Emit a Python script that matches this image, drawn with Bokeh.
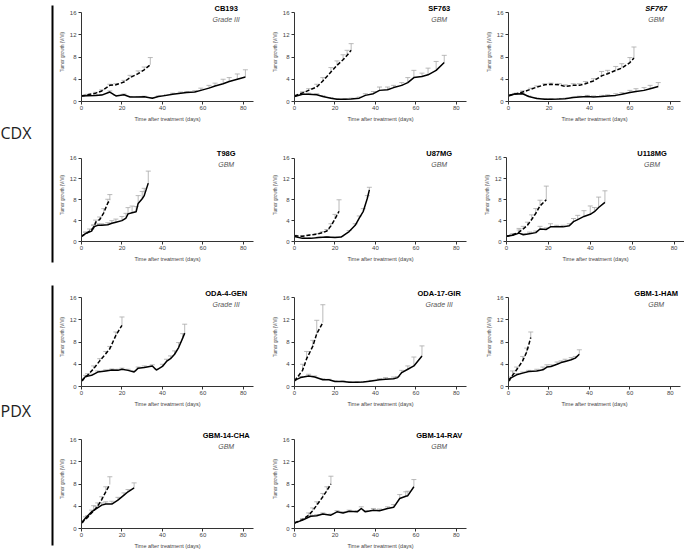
from bokeh.plotting import figure
from bokeh.models import Range1d, Label, ColumnDataSource
from bokeh.layouts import row, column
from bokeh.embed import file_html
from bokeh.resources import INLINE
from bokeh.core.properties import value

x_ticks = [0, 20, 40, 60, 80]
y_ticks = [0, 4, 8, 12, 16]
x_title = "Time after treatment (days)"
y_title = "Tumor growth (V/Vi)"
group_labels = ["CDX", "PDX"]

# ---------------- CDX ----------------
cb193_name, cb193_sub = "CB193", "Grade III"
cb193_sd = [0, 3, 7, 10, 14, 17, 21, 24, 28, 31, 35, 38, 42, 45, 49, 52, 56, 59, 63, 66, 70, 73, 77, 81]
cb193_sv = [1.0, 1.05, 1.1, 1.15, 1.7, 1.0, 1.2, 0.8, 0.8, 0.85, 0.6, 0.9, 1.1, 1.3, 1.5, 1.6, 1.7, 2.0, 2.4, 2.8, 3.2, 3.6, 4.0, 4.4]
cb193_se = [0.1, 0.1, 0.1, 0.1, 0.2, 0.1, 0.15, 0.1, 0.1, 0.1, 0.1, 0.1, 0.15, 0.2, 0.2, 0.2, 0.25, 0.4, 0.5, 0.5, 0.8, 0.7, 0.95, 1.3]
cb193_dd = [0, 3, 7, 10, 14, 17, 21, 24, 28, 31, 34]
cb193_dv = [1.0, 1.2, 1.5, 1.9, 2.9, 3.0, 3.5, 4.3, 5.0, 5.7, 6.6]
cb193_de = [0.1, 0.1, 0.15, 0.2, 0.2, 0.2, 0.3, 0.4, 0.5, 0.5, 1.3]

sf763_name, sf763_sub = "SF763", "GBM"
sf763_sd = [0, 4, 7, 11, 14, 18, 21, 25, 28, 32, 35, 39, 42, 46, 49, 53, 56, 59, 63, 66, 70, 74]
sf763_sv = [0.9, 1.3, 1.3, 1.2, 0.9, 0.6, 0.4, 0.4, 0.45, 0.6, 1.1, 1.4, 2.0, 2.1, 2.5, 2.9, 3.4, 4.3, 4.5, 4.8, 5.6, 7.0]
sf763_se = [0.1, 0.2, 0.2, 0.2, 0.15, 0.1, 0.1, 0.1, 0.15, 0.2, 0.3, 0.4, 0.6, 0.5, 0.4, 0.5, 0.9, 1.3, 0.6, 1.2, 1.6, 1.3]
sf763_dd = [0, 4, 7, 11, 14, 18, 21, 24, 26, 28]
sf763_dv = [1.0, 1.55, 2.0, 2.6, 3.7, 5.3, 6.5, 7.5, 8.3, 9.2]
sf763_de = [0.1, 0.2, 0.3, 0.5, 0.6, 0.8, 0.8, 0.9, 0.9, 1.2]

sf767_name, sf767_sub = "SF767", "GBM"
sf767_sd = [0, 3, 7, 10, 14, 18, 21, 25, 28, 32, 35, 39, 42, 46, 49, 53, 56, 60, 63, 67, 70, 74]
sf767_sv = [1.0, 1.35, 1.4, 0.9, 0.55, 0.4, 0.4, 0.45, 0.5, 0.7, 0.8, 0.9, 0.8, 0.9, 1.0, 1.1, 1.3, 1.6, 1.8, 2.0, 2.3, 2.7]
sf767_se = [0.1, 0.1, 0.1, 0.1, 0.1, 0.1, 0.1, 0.1, 0.1, 0.1, 0.15, 0.2, 0.2, 0.2, 0.2, 0.3, 0.3, 0.4, 0.5, 0.5, 0.6, 0.7]
sf767_dd = [0, 4, 7, 11, 14, 18, 21, 25, 28, 32, 35, 38, 42, 46, 49, 53, 56, 60, 62]
sf767_dv = [1.1, 1.4, 1.7, 2.2, 2.6, 3.0, 3.1, 3.0, 2.7, 2.9, 2.9, 3.2, 3.7, 4.6, 5.0, 5.6, 6.0, 7.0, 7.8]
sf767_de = [0.1, 0.1, 0.2, 0.2, 0.2, 0.2, 0.2, 0.2, 0.3, 0.3, 0.3, 0.4, 0.4, 0.8, 0.6, 0.7, 0.8, 0.9, 2.0]

t98g_name, t98g_sub = "T98G", "GBM"
t98g_sd = [0, 2, 5, 6, 8, 10, 13, 15, 17, 20, 22, 23, 25, 27, 28, 30, 31, 33]
t98g_sv = [1.0, 1.5, 2.0, 2.8, 3.1, 3.1, 3.2, 3.5, 3.7, 4.0, 4.5, 5.3, 5.5, 5.7, 7.3, 8.2, 8.8, 11.2]
t98g_se = [0.1, 0.3, 0.3, 0.4, 0.3, 0.3, 0.4, 0.5, 0.6, 0.8, 0.9, 1.2, 1.3, 1.0, 1.5, 1.4, 1.4, 2.3]
t98g_dd = [0, 2, 4, 6, 7, 9, 11, 13, 14]
t98g_dv = [1.0, 1.5, 2.0, 2.6, 3.7, 4.2, 5.5, 7.4, 7.9]
t98g_de = [0.1, 0.3, 0.4, 0.5, 0.4, 0.5, 0.8, 0.7, 1.1]

u87_name, u87_sub = "U87MG", "GBM"
u87_sd = [0, 4, 8, 12, 16, 20, 23, 27, 30, 32, 34, 36, 37]
u87_sv = [0.95, 0.6, 0.6, 0.75, 0.85, 0.75, 0.85, 1.9, 3.1, 4.5, 5.8, 8.3, 9.9]
u87_se = [0.1, 0.1, 0.1, 0.1, 0.1, 0.1, 0.1, 0.2, 0.3, 0.4, 0.5, 0.5, 0.5]
u87_dd = [0, 4, 7, 11, 14, 16, 18, 20, 22]
u87_dv = [1.1, 1.0, 1.2, 1.4, 1.7, 2.0, 3.0, 4.3, 5.8]
u87_de = [0.1, 0.1, 0.1, 0.1, 0.2, 0.3, 0.4, 0.9, 2.2]

u118_name, u118_sub = "U118MG", "GBM"
u118_sd = [0, 3, 6, 8, 11, 14, 16, 19, 21, 24, 27, 30, 32, 34, 37, 40, 42, 44, 47]
u118_sv = [1.0, 1.2, 1.6, 1.3, 1.5, 1.7, 2.4, 2.3, 2.8, 2.8, 2.8, 3.0, 3.8, 4.2, 4.8, 5.2, 5.7, 6.5, 7.5]
u118_se = [0.1, 0.2, 0.9, 0.2, 0.3, 0.3, 0.5, 0.3, 0.6, 0.3, 0.3, 0.4, 0.6, 0.8, 1.1, 1.6, 0.8, 2.0, 2.2]
u118_dd = [0, 3, 6, 8, 10, 12, 14, 16, 19]
u118_dv = [1.0, 1.3, 1.8, 2.4, 3.1, 4.2, 5.4, 6.8, 8.0]
u118_de = [0.1, 0.2, 0.4, 0.5, 0.6, 0.9, 0.9, 1.1, 2.6]

# ---------------- PDX ----------------
oda4_name, oda4_sub = "ODA-4-GEN", "Grade III"
oda4_sd = [0, 2, 5, 8, 12, 15, 18, 20, 23, 26, 28, 31, 35, 37, 40, 42, 44, 46, 48, 50, 51]
oda4_sv = [1.0, 1.8, 2.0, 2.6, 2.8, 2.95, 2.9, 3.1, 2.9, 2.6, 3.3, 3.4, 3.7, 2.95, 3.6, 4.5, 5.0, 5.8, 7.0, 8.7, 9.6]
oda4_se = [0.1, 0.2, 0.2, 0.2, 0.2, 0.2, 0.2, 0.2, 0.2, 0.2, 0.2, 0.3, 0.2, 0.2, 0.4, 0.4, 0.5, 0.6, 0.9, 0.8, 1.6]
oda4_dd = [0, 3, 6, 9, 12, 14, 17, 20]
oda4_dv = [1.0, 2.0, 3.2, 4.6, 5.9, 6.8, 9.2, 11.0]
oda4_de = [0.1, 0.3, 0.5, 0.4, 0.4, 0.4, 0.6, 1.5]

oda17_name, oda17_sub = "ODA-17-GIR", "Grade III"
oda17_sd = [0, 3, 7, 10, 14, 17, 20, 24, 27, 31, 34, 38, 42, 45, 49, 51, 53, 56, 59, 63]
oda17_sv = [1.1, 1.6, 1.9, 1.7, 1.2, 1.2, 0.9, 0.9, 0.75, 0.75, 0.8, 1.0, 1.2, 1.3, 1.4, 1.6, 2.5, 3.1, 3.7, 5.5]
oda17_se = [0.1, 0.2, 0.3, 0.2, 0.2, 0.1, 0.1, 0.1, 0.1, 0.1, 0.1, 0.1, 0.2, 0.3, 0.3, 0.2, 0.4, 0.6, 1.6, 1.8]
oda17_dd = [0, 4, 6, 9, 11, 14]
oda17_dv = [1.0, 2.9, 5.0, 7.2, 9.5, 11.5]
oda17_de = [0.1, 1.1, 1.3, 1.1, 2.4, 3.2]

ham_name, ham_sub = "GBM-1-HAM", "GBM"
ham_sd = [0, 1, 4, 7, 10, 14, 17, 19, 21, 24, 26, 28, 31, 33, 35]
ham_sv = [1.0, 1.5, 2.1, 2.4, 2.7, 2.8, 3.0, 3.5, 3.6, 4.0, 4.3, 4.5, 4.8, 5.1, 5.8]
ham_se = [0.1, 0.2, 0.2, 0.2, 0.2, 0.3, 0.5, 0.4, 0.3, 0.4, 0.3, 0.4, 0.4, 0.3, 0.8]
ham_dd = [0, 2, 4, 7, 9, 11]
ham_dv = [1.0, 2.0, 3.0, 4.6, 6.2, 8.8]
ham_de = [0.1, 0.8, 0.5, 0.8, 0.7, 1.0]

cha_name, cha_sub = "GBM-14-CHA", "GBM"
cha_sd = [0, 2, 5, 7, 10, 12, 15, 18, 21, 23, 26]
cha_sv = [1.0, 1.9, 3.0, 3.5, 4.2, 4.4, 4.4, 5.1, 6.0, 6.6, 7.3]
cha_se = [0.1, 0.2, 0.3, 0.5, 0.4, 0.4, 0.5, 0.5, 0.4, 0.4, 0.9]
cha_dd = [0, 3, 6, 8, 10, 12, 14]
cha_dv = [1.0, 2.0, 3.2, 4.0, 5.2, 6.6, 7.9]
cha_de = [0.1, 0.3, 0.9, 0.6, 0.5, 0.9, 1.4]

rav_name, rav_sub = "GBM-14-RAV", "GBM"
rav_sd = [0, 4, 8, 11, 14, 18, 21, 24, 27, 31, 33, 35, 39, 42, 46, 49, 52, 55, 56, 59]
rav_sv = [1.0, 1.5, 2.2, 2.3, 2.6, 2.4, 3.0, 2.8, 3.1, 3.0, 3.6, 3.0, 3.3, 3.2, 3.6, 3.8, 5.4, 5.8, 5.9, 7.5]
rav_se = [0.1, 0.1, 0.2, 0.2, 0.2, 0.2, 0.2, 0.2, 0.2, 0.2, 0.3, 0.2, 0.3, 0.3, 0.3, 0.5, 0.7, 0.8, 0.8, 1.3]
rav_dd = [0, 4, 7, 9, 11, 14, 16, 18]
rav_dv = [1.0, 1.6, 2.4, 3.2, 4.2, 5.7, 6.8, 8.0]
rav_de = [0.1, 0.2, 0.4, 0.5, 0.6, 0.6, 0.7, 1.4]

FONT = "Liberation Sans"
AX = "#333333"
TXT = "#444444"
ERR = "#a8a8a8"
HEAD = 10          # px of frame kept above the "16" line for the panel title
YMAX = 16
XMAX = 85


def panel(name, sub, sd, sv, se, dd, dv, de, geo, name_style="bold", tx=71.5):
    w, h, ml, mr, mt, mb = geo
    fh = h - mt - mb
    ytop = YMAX * fh / (fh - HEAD)
    p = figure(width=w, height=h, x_range=Range1d(0, XMAX), y_range=Range1d(0, ytop),
               output_backend="svg", toolbar_location=None,
               min_border_left=ml, min_border_right=mr, min_border_top=mt, min_border_bottom=mb)
    p.xgrid.visible = False
    p.ygrid.visible = False
    p.outline_line_color = None
    p.background_fill_color = "white"
    p.border_fill_color = "white"
    p.xaxis.ticker = x_ticks
    p.yaxis.ticker = y_ticks
    p.yaxis.bounds = (0, YMAX)
    p.xaxis.axis_label = x_title
    p.yaxis.axis_label = y_title
    for ax in (p.xaxis[0], p.yaxis[0]):
        ax.axis_line_color = AX
        ax.axis_line_width = 1
        ax.major_tick_line_color = AX
        ax.major_tick_out = 3
        ax.major_tick_in = 0
        ax.minor_tick_out = 0
        ax.minor_tick_in = 0
        ax.major_label_text_font = FONT
        ax.major_label_text_font_size = "6px"
        ax.major_label_text_color = TXT
        ax.axis_label_text_font = FONT
        ax.axis_label_text_font_style = "normal"
        ax.axis_label_text_color = TXT
    p.xaxis.major_label_standoff = 1
    p.xaxis.axis_label_standoff = 3
    p.xaxis.axis_label_text_font_size = "5.5px"
    p.yaxis.major_label_standoff = 2
    p.yaxis.axis_label_standoff = 2
    p.yaxis.axis_label_text_font_size = "4.5px"

    for d, v, e in ((sd, sv, se), (dd, dv, de)):
        src = ColumnDataSource(dict(x=d, y=v, up=[a + b for a, b in zip(v, e)]))
        p.segment(x0="x", y0="y", x1="x", y1="up", source=src, line_color=ERR, line_width=0.8)
        p.scatter(x="x", y="up", source=src, marker="dash", size=5, line_color=ERR, line_width=0.8)
    for d, v, dash in ((dd, dv, "4 2"), (sd, sv, "solid")):
        p.line(d, v, line_color="black", line_width=1.5, line_dash=dash)

    p.add_layout(Label(x=tx, y=YMAX, x_units="data", y_units="data", text=name,
                       text_align="center", text_baseline="middle", y_offset=4.5,
                       text_font=FONT, text_font_size="7.5px", text_font_style=name_style,
                       text_color="black"))
    p.add_layout(Label(x=tx, y=YMAX, x_units="data", y_units="data", text=sub,
                       text_align="center", text_baseline="middle", y_offset=-6.8,
                       text_font=FONT, text_font_size="7px", text_font_style="italic",
                       text_color="#555555"))
    return p


# geometry: (width, height, border left, right, top, bottom)
G = {
    (1, 1): (213, 140, 27, 14, 2, 39), (1, 2): (214, 140, 27, 15, 2, 39), (1, 3): (203, 140, 27, 4, 2, 39),
    (2, 1): (213, 142, 27, 14, 4, 41), (2, 2): (214, 142, 27, 15, 4, 41), (2, 3): (203, 142, 20, 0, 8, 35),
    (3, 1): (213, 140, 27, 14, 5, 36), (3, 2): (214, 140, 27, 15, 5, 36), (3, 3): (203, 140, 27, 4, 5, 36),
    (4, 1): (213, 129, 27, 14, 7, 23), (4, 2): (214, 129, 27, 15, 7, 23),
}

p_cb193 = panel(cb193_name, cb193_sub, cb193_sd, cb193_sv, cb193_se, cb193_dd, cb193_dv, cb193_de, G[(1, 1)])
p_sf763 = panel(sf763_name, sf763_sub, sf763_sd, sf763_sv, sf763_se, sf763_dd, sf763_dv, sf763_de, G[(1, 2)])
p_sf767 = panel(sf767_name, sf767_sub, sf767_sd, sf767_sv, sf767_se, sf767_dd, sf767_dv, sf767_de, G[(1, 3)],
                "bold italic", 73)
p_t98g = panel(t98g_name, t98g_sub, t98g_sd, t98g_sv, t98g_se, t98g_dd, t98g_dv, t98g_de, G[(2, 1)])
p_u87 = panel(u87_name, u87_sub, u87_sd, u87_sv, u87_se, u87_dd, u87_dv, u87_de, G[(2, 2)])
p_u118 = panel(u118_name, u118_sub, u118_sd, u118_sv, u118_se, u118_dd, u118_dv, u118_de, G[(2, 3)],
               "bold", 69.5)
p_oda4 = panel(oda4_name, oda4_sub, oda4_sd, oda4_sv, oda4_se, oda4_dd, oda4_dv, oda4_de, G[(3, 1)])
p_oda17 = panel(oda17_name, oda17_sub, oda17_sd, oda17_sv, oda17_se, oda17_dd, oda17_dv, oda17_de, G[(3, 2)])
p_ham = panel(ham_name, ham_sub, ham_sd, ham_sv, ham_se, ham_dd, ham_dv, ham_de, G[(3, 3)], "bold", 73)
p_cha = panel(cha_name, cha_sub, cha_sd, cha_sv, cha_se, cha_dd, cha_dv, cha_de, G[(4, 1)])
p_rav = panel(rav_name, rav_sub, rav_sd, rav_sv, rav_se, rav_dd, rav_dv, rav_de, G[(4, 2)])

# left group labels with vertical bars (layout coordinates in pixels)
TOTAL_H = 140 + 142 + 140 + 129
lab = figure(width=54, height=TOTAL_H, x_range=Range1d(0, 54), y_range=Range1d(TOTAL_H, 0),
             output_backend="svg", toolbar_location=None,
             min_border_left=0, min_border_right=0, min_border_top=0, min_border_bottom=0)
lab.axis.visible = False
lab.grid.visible = False
lab.outline_line_color = None
lab.text(x=[0, 0], y=[132, 410], text=group_labels, text_font=value("Open Sans"),
         text_font_size="16px", text_baseline="middle", text_align="left", text_color="#222222")
lab.segment(x0=[52, 52], y0=[5, 285], x1=[52, 52], y1=[262, 545], line_color="black", line_width=2)

grid = column(row(p_cb193, p_sf763, p_sf767),
              row(p_t98g, p_u87, p_u118),
              row(p_oda4, p_oda17, p_ham),
              row(p_cha, p_rav))
layout = row(lab, grid)

open("out.html", "w").write(file_html(layout, INLINE))
